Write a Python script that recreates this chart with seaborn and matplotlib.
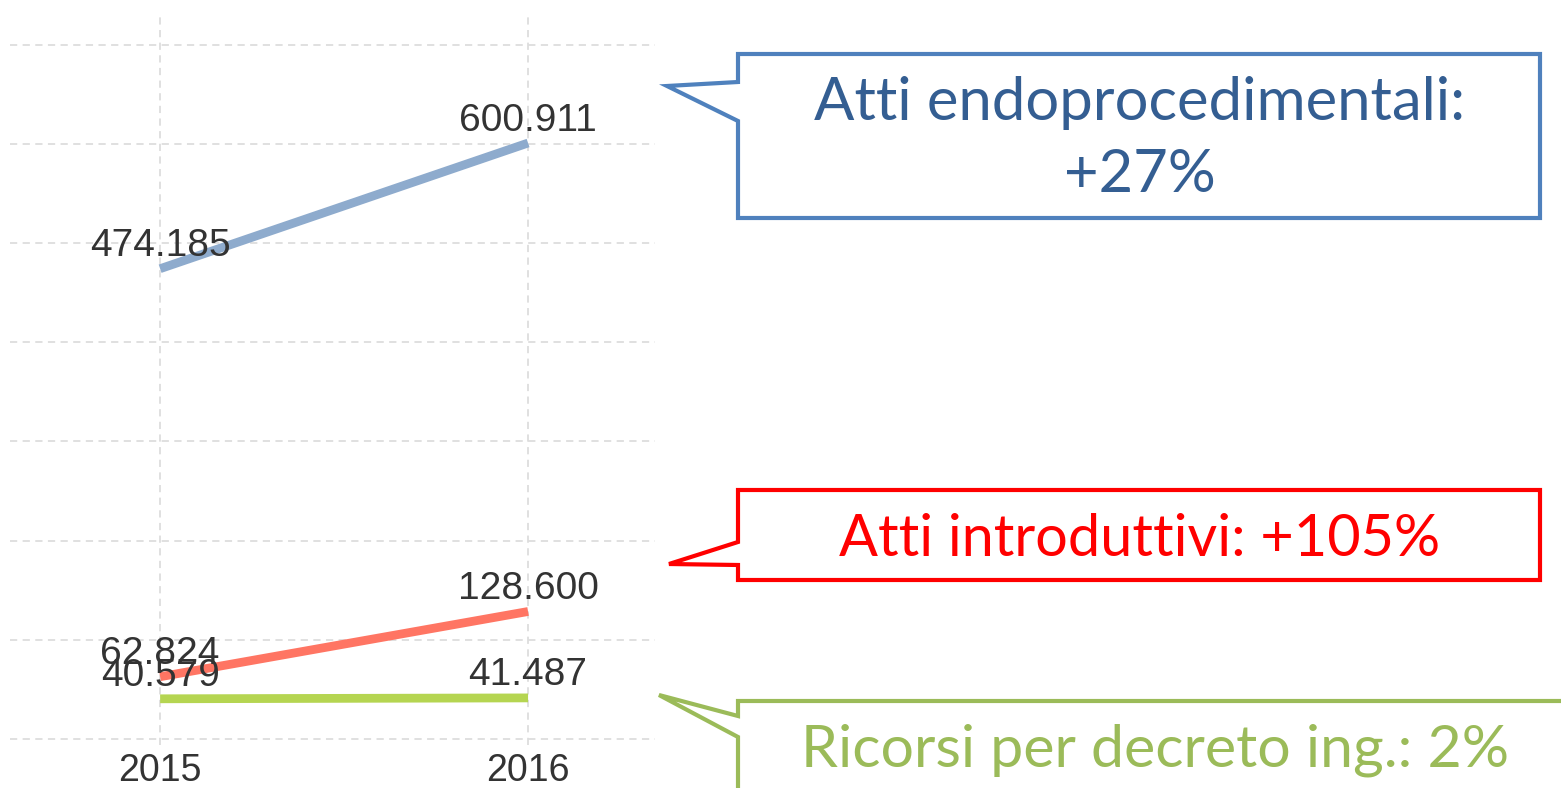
import matplotlib
matplotlib.use("Agg")
import matplotlib.pyplot as plt
from matplotlib.patches import Polygon
import pandas as pd
import seaborn as sns

# Data
years = [2015, 2016]
series = ["Atti endoprocedimentali", "Atti introduttivi", "Ricorsi per decreto ing."]
endo = [474185, 600911]
intro = [62824, 128600]
ricorsi = [40579, 41487]
line_colors = ["#8eabcd", "#ff7563", "#b5d551"]

callout_texts = ["Atti endoprocedimentali:\n+27%", "Atti introduttivi: +105%", "Ricorsi per decreto ing.: 2%"]
callout_edge = ["#4f81bd", "#ff0000", "#9bbb59"]
callout_text_color = ["#345e92", "#ff0000", "#9bbb59"]

W, H = 1561, 788

df = pd.DataFrame({
    "anno": years * 3,
    "valore": endo + intro + ricorsi,
    "serie": [series[0]] * 2 + [series[1]] * 2 + [series[2]] * 2,
})

sns.set_style("white")
plt.rcParams["font.family"] = ["Liberation Sans", "DejaVu Sans"]

fig = plt.figure(figsize=(W / 100, H / 100), dpi=100)
ax = fig.add_axes([10 / W, 1 - 745 / H, 645 / W, 733 / H])

sns.lineplot(data=df, x="anno", y="valore", hue="serie", palette=line_colors,
             linewidth=6.3, legend=False, ax=ax, solid_capstyle="butt")

ax.set_xlim(2014.592, 2016.345)
ax.set_ylim(-6000, 733000)
ax.set_xticks(years)
ax.set_xticklabels([str(y) for y in years], fontsize=27, color="#333333")
ax.set_yticks(range(0, 700001, 100000))
ax.set_yticklabels([])
ax.tick_params(length=0, pad=6)
ax.grid(True, linestyle=(0, (4, 3)), color="#dddddd", linewidth=1.3)
ax.set_axisbelow(True)
for s in ax.spines.values():
    s.set_visible(False)
ax.set_xlabel("")
ax.set_ylabel("")

# value labels (the 2015 labels of the two lower series overlap, as in the original)
for vals in [endo, intro, ricorsi]:
    for x, v in zip(years, vals):
        ax.annotate(f"{v:,}".replace(",", "."), (x, v), xytext=(0, 9), textcoords="offset points",
                    ha="center", va="baseline", fontsize=28, color="#333333")


def px(x, y):
    return (x / W, 1 - y / H)


# callouts (pixel geometry, top-left origin)
shapes = [
    [(738, 54), (1540, 54), (1540, 218), (738, 218), (738, 121), (667, 86), (738, 82)],
    [(738, 490), (1540, 490), (1540, 580), (738, 580), (738, 565), (669, 564), (738, 542)],
    [(738, 701), (1600, 701), (1600, 820), (738, 820), (738, 737), (659, 695), (738, 716)],
]
text_pos = [(1140, 139), (1140, 540), (1155, 750)]
text_size = [43, 41.5, 42.5]

for pts, ec, tc, txt, (tx, ty), fs in zip(shapes, callout_edge, callout_text_color, callout_texts, text_pos, text_size):
    poly = Polygon([px(*p) for p in pts], closed=True, transform=fig.transFigure,
                   facecolor="white", edgecolor=ec, linewidth=3, joinstyle="miter", clip_on=False)
    fig.patches.append(poly)
    fig.text(*px(tx, ty), txt, ha="center", va="center", fontsize=fs, color=tc,
             family=["Lato", "DejaVu Sans"], linespacing=1.4)

fig.savefig("out.png", dpi=100)
